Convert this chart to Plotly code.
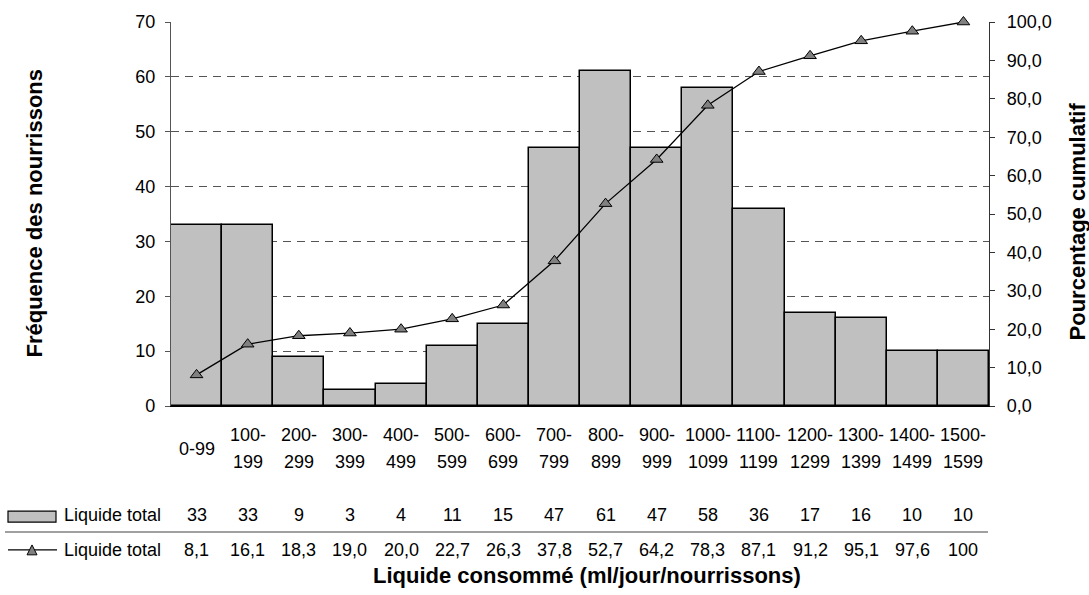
import plotly.graph_objects as go

# Liquid intake classes (ml/day/infant)
classes = ["0-99", "100-199", "200-299", "300-399", "400-499", "500-599", "600-699",
           "700-799", "800-899", "900-999", "1000-1099", "1100-1199", "1200-1299",
           "1300-1399", "1400-1499", "1500-1599"]
frequency = [33, 33, 9, 3, 4, 11, 15, 47, 61, 47, 58, 36, 17, 16, 10, 10]
cumulative_pct = [8.1, 16.1, 18.3, 19.0, 20.0, 22.7, 26.3, 37.8, 52.7, 64.2,
                  78.3, 87.1, 91.2, 95.1, 97.6, 100]
cumulative_txt = ["8,1", "16,1", "18,3", "19,0", "20,0", "22,7", "26,3", "37,8", "52,7",
                  "64,2", "78,3", "87,1", "91,2", "95,1", "97,6", "100"]
series_name = "Liquide total"

W, H = 1089, 595
ML, MR, MT, MB = 171, 100, 19, 189
PW, PH = W - ML - MR, H - MT - MB
FONT = "Liberation Sans, Arial, sans-serif"
FS = 18
TFS = 22


def px(x):
    return (x - ML) / PW


def py(y):
    return (H - MB - y) / PH


def label(x, y, text, xref="x", size=FS, **kw):
    d = dict(x=x, xref=xref, y=y, yref="paper", text=text, showarrow=False,
             xanchor="center", yanchor="middle", font=dict(size=size))
    d.update(kw)
    return d


fig = go.Figure()
fig.add_trace(go.Bar(
    x=classes, y=frequency, name=series_name, width=1,
    marker=dict(color="#c0c0c0", line=dict(color="black", width=1.5)),
))
fig.add_trace(go.Scatter(
    x=classes, y=cumulative_pct, name=series_name, yaxis="y2", mode="lines+markers",
    cliponaxis=False,
    line=dict(color="black", width=1.3),
    marker=dict(symbol="triangle-up", size=11, color="#808080",
                line=dict(color="black", width=1)),
))

annotations = []
shapes = []

# category labels split over two lines
for c in classes:
    if "-" in c and not c.startswith("0-"):
        a, b = c.split("-")
        annotations.append(label(c, py(435), a + "-"))
        annotations.append(label(c, py(462), b))
    else:
        annotations.append(label(c, py(449), c))

# data table rows
for c, f, t in zip(classes, frequency, cumulative_txt):
    annotations.append(label(c, py(516), str(f)))
    annotations.append(label(c, py(551), t))

for yy in (516, 551):
    annotations.append(label(px(62), py(yy), series_name, xref="paper", xanchor="left"))

# legend keys and separator
shapes.append(dict(type="rect", xref="paper", yref="paper", x0=px(8), x1=px(56),
                   y0=py(523), y1=py(512), fillcolor="#c0c0c0",
                   line=dict(color="black", width=1.2)))
shapes.append(dict(type="line", xref="paper", yref="paper", x0=px(8), x1=px(57),
                   y0=py(551), y1=py(551), line=dict(color="black", width=1.3)))
tri = "M {:.4f} {:.4f} L {:.4f} {:.4f} L {:.4f} {:.4f} Z".format(
    px(27), py(556), px(37), py(556), px(32), py(546))
shapes.append(dict(type="path", xref="paper", yref="paper", path=tri,
                   fillcolor="#808080", line=dict(color="black", width=1)))
shapes.append(dict(type="line", xref="paper", yref="paper", x0=px(5), x1=px(988),
                   y0=py(533), y1=py(533), line=dict(color="#808080", width=1.3)))

# axis titles
annotations.append(label(px(587), py(577), "<b>Liquide consommé (ml/jour/nourrissons)</b>",
                         xref="paper", size=TFS))
annotations.append(label(px(35), py(212), "<b>Fréquence des nourrissons</b>",
                         xref="paper", size=TFS, textangle=-90))
annotations.append(label(px(1077), py(220), "<b>Pourcentage cumulatif</b>",
                         xref="paper", size=TFS, textangle=-90))

fig.update_layout(
    width=W, height=H,
    margin=dict(l=ML, r=MR, t=MT, b=MB, pad=0),
    paper_bgcolor="white", plot_bgcolor="white",
    font=dict(family=FONT, size=FS, color="black"),
    separators=", ",
    showlegend=False, bargap=0,
    xaxis=dict(type="category", showticklabels=False, ticks="", showgrid=False,
               showline=True, linecolor="black", linewidth=1, range=[-0.5, 15.5]),
    yaxis=dict(range=[0, 70], dtick=10, showgrid=True, gridcolor="#555555",
               griddash="8px,6px", gridwidth=1, showline=True, linecolor="#555555",
               linewidth=1.3, ticks="outside", ticklen=5, tickcolor="#555555",
               zeroline=False, ticklabelstandoff=6),
    yaxis2=dict(range=[0, 100], dtick=10, tickformat=".1f", overlaying="y", side="right",
                showgrid=False, showline=True, linecolor="#333333", linewidth=1.3,
                ticks="outside", ticklen=5, tickcolor="#333333", zeroline=False,
                ticklabelstandoff=8),
    annotations=annotations, shapes=shapes,
)

fig.write_html("out.html")
